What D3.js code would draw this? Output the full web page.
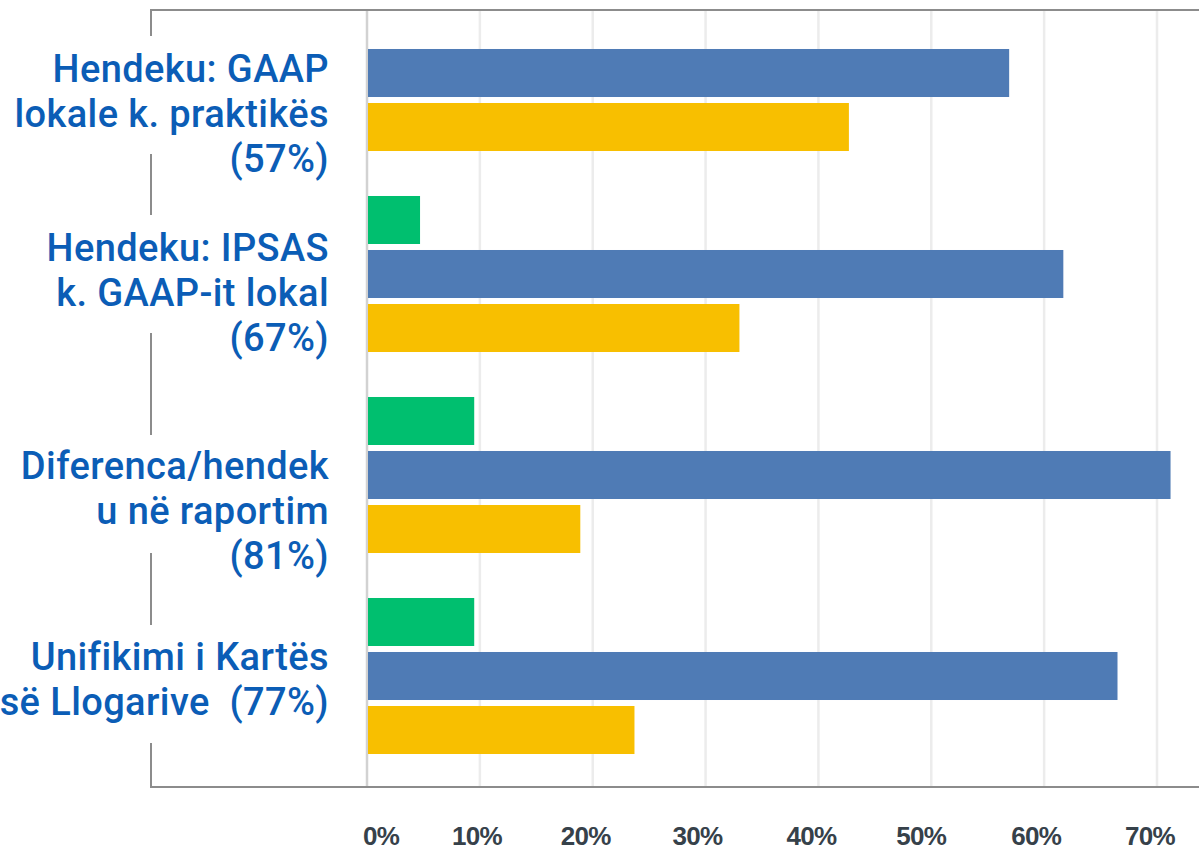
<!DOCTYPE html>
<meta charset="utf-8">
<style>
body { margin: 0; background: #fff; }
.labels text { font: 500 38px Roboto, sans-serif; fill: #0b5db6; letter-spacing: 0.4px; white-space: pre; }
.ticks text { font: bold 26px "Liberation Sans Narrow", "Arial Narrow", sans-serif; fill: #36414a; letter-spacing: -0.7px; }
</style>
<svg width="1199" height="852"></svg>
<script src="https://cdnjs.cloudflare.com/ajax/libs/d3/7.8.5/d3.min.js"></script>
<script>
// categories (label lines) and the three series, in percent
var categories = ["gaap", "ipsas", "diferenca", "unifikimi"];
var labelLines = [
  ["Hendeku: GAAP", "lokale k. praktikës", "(57%)"],
  ["Hendeku: IPSAS", "k. GAAP-it lokal", "(67%)"],
  ["Diferenca/hendek", "u në raportim", "(81%)"],
  ["Unifikimi i Kartës", "së Llogarive  (77%)"]
];
var seriesKeys = ["green", "blue", "yellow"];
var greenVals  = [0, 4.7, 9.5, 9.5];
var blueVals   = [56.9, 61.7, 71.2, 66.5];
var yellowVals = [42.7, 33.0, 18.9, 23.7];
var tickVals = [0, 10, 20, 30, 40, 50, 60, 70];
</script>
<script>
var svg = d3.select("svg");

var colors = {green: "#00bf6f", blue: "#4f7bb5", yellow: "#f8bf00"};

// layout tweaks
var labelTextShift = [9, -13, 4, -6];
var labelBoxShift = [22, 0, 19, 8];
var tickShift = [14, -3, -7, -8, -7, -10, -8, -7];

var rows = categories.map(function(c, i) {
  return {key: c, lines: labelLines[i], green: greenVals[i], blue: blueVals[i], yellow: yellowVals[i]};
});

var x = d3.scaleLinear().domain([0, 70]).range([367, 1157]);

var y0 = d3.scaleBand()
    .domain(categories)
    .range([-27.5, 776.5])
    .paddingInner(0.194)
    .paddingOuter(0.097);

var y1 = d3.scaleBand()
    .domain(seriesKeys)
    .range([0, y0.bandwidth()])
    .paddingInner(0.111)
    .paddingOuter(0.0555);

var frameTop = 10, frameBottom = 787, frameLeft = 151;

// frame
svg.append("path")
    .attr("d", "M1210," + frameTop + "H" + frameLeft + "V" + frameBottom + "H1210")
    .attr("fill", "none")
    .attr("stroke", "#8c8c8c")
    .attr("stroke-width", 2);

// grid
svg.append("g")
  .selectAll("line")
  .data(tickVals)
  .enter().append("line")
    .attr("x1", function(d) { return x(d); })
    .attr("x2", function(d) { return x(d); })
    .attr("y1", frameTop + 1)
    .attr("y2", frameBottom - 1)
    .attr("stroke", function(d) { return d === 0 ? "#d2d2d2" : "#ececec"; })
    .attr("stroke-width", 2.5);

// bars
var group = svg.append("g")
  .selectAll("g")
  .data(rows)
  .enter().append("g")
    .attr("transform", function(d) { return "translate(0," + y0(d.key) + ")"; });

group.selectAll("rect")
  .data(function(d) { return seriesKeys.map(function(k) { return {key: k, value: d[k]}; }); })
  .enter().append("rect")
    .attr("x", x(0) + 1)
    .attr("y", function(d) { return y1(d.key); })
    .attr("width", function(d) { return Math.max(0, x(d.value) - x(0) - 1); })
    .attr("height", y1.bandwidth())
    .attr("fill", function(d) { return colors[d.key]; });

// category labels, on white boxes that hide the frame
var label = svg.append("g")
    .attr("class", "labels")
  .selectAll("g")
  .data(rows)
  .enter().append("g");

label.append("rect")
    .attr("x", 0)
    .attr("width", 356)
    .attr("y", function(d, i) { return y0(d.key) + y0.bandwidth() / 2 + labelBoxShift[i] - 59; })
    .attr("height", 118)
    .attr("fill", "#fff");

label.append("text")
    .attr("text-anchor", "end")
    .attr("x", 329)
    .attr("y", function(d, i) { return y0(d.key) + y0.bandwidth() / 2 + labelTextShift[i]; })
  .selectAll("tspan")
  .data(function(d) { return d.lines; })
  .enter().append("tspan")
    .attr("x", 329)
    .attr("dy", function(d, i) { return i === 0 ? 0 : 45; })
    .text(function(d) { return d; });

// tick labels
svg.append("g")
    .attr("class", "ticks")
  .selectAll("text")
  .data(tickVals)
  .enter().append("text")
    .attr("text-anchor", "middle")
    .attr("x", function(d, i) { return x(d) + tickShift[i]; })
    .attr("y", 845)
    .text(function(d) { return d + "%"; });
</script>
